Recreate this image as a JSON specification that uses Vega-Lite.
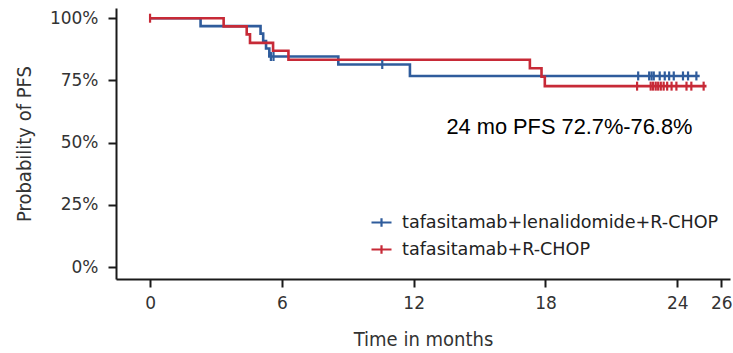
{
  "$schema": "https://vega.github.io/schema/vega-lite/v6.json",
  "autosize": {"type": "none"},
  "padding": {"left": 116, "top": 8, "right": 3, "bottom": 74},
  "width": 614,
  "height": 271,
  "background": "white",
  "config": {
    "view": {"stroke": null},
    "axis": {
      "grid": false,
      "domainColor": "#1a1a1a",
      "domainWidth": 2,
      "tickColor": "#1a1a1a",
      "tickWidth": 2,
      "tickSize": 8,
      "labelColor": "#333333",
      "labelFont": "DejaVu Sans",
      "labelFontSize": 17,
      "titleFont": "DejaVu Sans Condensed",
      "titleFontSize": 20,
      "titleFontWeight": "normal",
      "titleColor": "#333333"
    },
    "legend": {
      "labelFont": "DejaVu Sans",
      "labelFontSize": 17.6,
      "labelLimit": 0,
      "labelColor": "#222222",
      "symbolType": "M-1,0H1M0,-0.42V0.42",
      "symbolSize": 400,
      "symbolStrokeWidth": 2.2,
      "symbolFillColor": "transparent",
      "labelOffset": 9,
      "rowPadding": 6,
      "padding": 0
    }
  },
  "datasets": {
    "curves": [
      {"arm": "tafasitamab+lenalidomide+R-CHOP", "t": 0, "s": 1.0},
      {"arm": "tafasitamab+lenalidomide+R-CHOP", "t": 2.3, "s": 0.968},
      {"arm": "tafasitamab+lenalidomide+R-CHOP", "t": 5.03, "s": 0.938},
      {"arm": "tafasitamab+lenalidomide+R-CHOP", "t": 5.15, "s": 0.908},
      {"arm": "tafasitamab+lenalidomide+R-CHOP", "t": 5.28, "s": 0.878},
      {"arm": "tafasitamab+lenalidomide+R-CHOP", "t": 5.43, "s": 0.846},
      {"arm": "tafasitamab+lenalidomide+R-CHOP", "t": 8.57, "s": 0.814},
      {"arm": "tafasitamab+lenalidomide+R-CHOP", "t": 11.83, "s": 0.768},
      {"arm": "tafasitamab+lenalidomide+R-CHOP", "t": 25.02, "s": 0.768},
      {"arm": "tafasitamab+R-CHOP", "t": 0, "s": 1.0},
      {"arm": "tafasitamab+R-CHOP", "t": 3.35, "s": 0.967},
      {"arm": "tafasitamab+R-CHOP", "t": 4.4, "s": 0.935},
      {"arm": "tafasitamab+R-CHOP", "t": 4.55, "s": 0.901},
      {"arm": "tafasitamab+R-CHOP", "t": 5.6, "s": 0.869},
      {"arm": "tafasitamab+R-CHOP", "t": 6.3, "s": 0.833},
      {"arm": "tafasitamab+R-CHOP", "t": 17.29, "s": 0.799},
      {"arm": "tafasitamab+R-CHOP", "t": 17.82, "s": 0.765},
      {"arm": "tafasitamab+R-CHOP", "t": 17.97, "s": 0.727},
      {"arm": "tafasitamab+R-CHOP", "t": 25.33, "s": 0.727}
    ],
    "censor": [
      {"arm": "tafasitamab+lenalidomide+R-CHOP", "t": 5.5, "s": 0.846},
      {"arm": "tafasitamab+lenalidomide+R-CHOP", "t": 5.62, "s": 0.846},
      {"arm": "tafasitamab+lenalidomide+R-CHOP", "t": 10.57, "s": 0.814},
      {"arm": "tafasitamab+lenalidomide+R-CHOP", "t": 22.22, "s": 0.768},
      {"arm": "tafasitamab+lenalidomide+R-CHOP", "t": 22.72, "s": 0.768},
      {"arm": "tafasitamab+lenalidomide+R-CHOP", "t": 22.83, "s": 0.768},
      {"arm": "tafasitamab+lenalidomide+R-CHOP", "t": 22.93, "s": 0.768},
      {"arm": "tafasitamab+lenalidomide+R-CHOP", "t": 23.2, "s": 0.768},
      {"arm": "tafasitamab+lenalidomide+R-CHOP", "t": 23.43, "s": 0.768},
      {"arm": "tafasitamab+lenalidomide+R-CHOP", "t": 23.63, "s": 0.768},
      {"arm": "tafasitamab+lenalidomide+R-CHOP", "t": 23.84, "s": 0.768},
      {"arm": "tafasitamab+lenalidomide+R-CHOP", "t": 24.26, "s": 0.768},
      {"arm": "tafasitamab+lenalidomide+R-CHOP", "t": 24.49, "s": 0.768},
      {"arm": "tafasitamab+lenalidomide+R-CHOP", "t": 24.87, "s": 0.768},
      {"arm": "tafasitamab+R-CHOP", "t": 0, "s": 1.0},
      {"arm": "tafasitamab+R-CHOP", "t": 22.17, "s": 0.727},
      {"arm": "tafasitamab+R-CHOP", "t": 22.79, "s": 0.727},
      {"arm": "tafasitamab+R-CHOP", "t": 22.9, "s": 0.727},
      {"arm": "tafasitamab+R-CHOP", "t": 23.02, "s": 0.727},
      {"arm": "tafasitamab+R-CHOP", "t": 23.13, "s": 0.727},
      {"arm": "tafasitamab+R-CHOP", "t": 23.25, "s": 0.727},
      {"arm": "tafasitamab+R-CHOP", "t": 23.38, "s": 0.727},
      {"arm": "tafasitamab+R-CHOP", "t": 23.54, "s": 0.727},
      {"arm": "tafasitamab+R-CHOP", "t": 23.74, "s": 0.727},
      {"arm": "tafasitamab+R-CHOP", "t": 23.96, "s": 0.727},
      {"arm": "tafasitamab+R-CHOP", "t": 24.42, "s": 0.727},
      {"arm": "tafasitamab+R-CHOP", "t": 24.64, "s": 0.727},
      {"arm": "tafasitamab+R-CHOP", "t": 25.2, "s": 0.727}
    ],
    "note": [
      {"t": 19.09, "s": 0.563, "label": "24 mo PFS 72.7%-76.8%"}
    ]
  },
  "layer": [
    {
      "data": {"name": "curves"},
      "mark": {"type": "line", "interpolate": "step-after", "strokeWidth": 2.6},
      "encoding": {
        "x": {
          "field": "t", "type": "quantitative",
          "scale": {"domain": [-1.55, 26.4], "nice": false, "zero": false},
          "axis": {"values": [0, 6, 12, 18, 24, 26], "title": "Time in months", "labelPadding": 8, "titlePadding": 18}
        },
        "y": {
          "field": "s", "type": "quantitative",
          "scale": {"domain": [-0.048, 1.041], "nice": false, "zero": false},
          "axis": {"values": [0, 0.25, 0.5, 0.75, 1], "format": ".0%", "title": "Probability of PFS", "labelPadding": 10, "titlePadding": 15}
        },
        "color": {
          "field": "arm", "type": "nominal",
          "scale": {"domain": ["tafasitamab+lenalidomide+R-CHOP", "tafasitamab+R-CHOP"], "range": ["#2f5c9c", "#c72a37"]},
          "legend": {"title": null, "orient": "none", "legendX": 254, "legendY": 203}
        }
      }
    },
    {
      "data": {"name": "censor"},
      "mark": {"type": "point", "shape": "M0,-1V1", "filled": false, "size": 81, "strokeWidth": 2.2, "opacity": 1},
      "encoding": {
        "x": {"field": "t", "type": "quantitative"},
        "y": {"field": "s", "type": "quantitative"},
        "color": {"field": "arm", "type": "nominal", "legend": null}
      }
    },
    {
      "data": {"name": "note"},
      "mark": {"type": "text", "font": "Liberation Sans", "fontSize": 21.8, "color": "#000000", "align": "center", "baseline": "middle"},
      "encoding": {
        "x": {"field": "t", "type": "quantitative"},
        "y": {"field": "s", "type": "quantitative"},
        "text": {"field": "label"}
      }
    }
  ]
}
